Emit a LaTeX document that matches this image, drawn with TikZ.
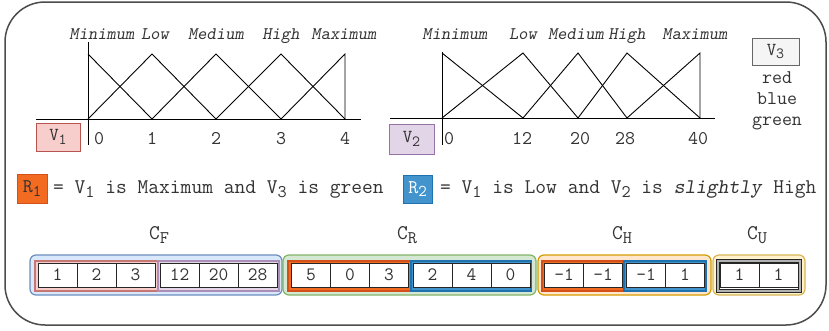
\documentclass[tikz,border=0pt]{standalone}
\usepackage{fontspec}
\usetikzlibrary{positioning}
\definecolor{redfill}{HTML}{F8CECC}\definecolor{reddraw}{HTML}{B85450}
\definecolor{purfill}{HTML}{E1D5E7}\definecolor{purdraw}{HTML}{9673A6}
\definecolor{grayfill}{HTML}{F5F5F5}\definecolor{graydraw}{HTML}{666666}
\definecolor{orfill}{HTML}{F26B21}\definecolor{ordraw}{HTML}{D4501A}
\definecolor{bufill}{HTML}{4393CC}\definecolor{budraw}{HTML}{1F72B0}
\definecolor{blfill}{HTML}{DAE8FC}\definecolor{bldraw}{HTML}{6C8EBF}
\definecolor{grfill}{HTML}{D5E8D4}\definecolor{grdraw}{HTML}{82B366}
\definecolor{ogfill}{HTML}{FFE6CC}\definecolor{ogdraw}{HTML}{D79B00}
\definecolor{ylfill}{HTML}{FFF2CC}\definecolor{yldraw}{HTML}{D6B656}
\newcommand{\lsub}[1]{\raisebox{-0.45ex}{\scalebox{0.85}{#1}}}
\begin{document}
\begin{tikzpicture}[x=1pt,y=-1pt, every node/.style={font=\ttfamily,text=black!80},
  axis/.style={black,line width=1pt},
  mf/.style={black,line width=0.9pt},
  term/.style={anchor=base,inner sep=0pt,font=\ttfamily\slshape\fontsize{17.7}{19}\selectfont},
  tick/.style={anchor=base,inner sep=0pt,font=\ttfamily\fontsize{19.4}{21}\selectfont},
  vbox/.style={draw,line width=1pt,inner sep=0pt,font=\ttfamily\fontsize{18.3}{20}\selectfont},
  rbox/.style={draw,line width=1pt,inner sep=0pt,minimum width=30pt,minimum height=29pt,font=\ttfamily\fontsize{19.4}{21}\selectfont},
  rule/.style={anchor=base west,inner sep=0pt,font=\ttfamily\fontsize{20.9}{23}\selectfont},
  clbl/.style={anchor=base west,inner sep=0pt,font=\ttfamily\fontsize{20.9}{23}\selectfont},
  grp/.style={draw,line width=1.2pt,rounded corners=6pt,minimum height=40pt,inner sep=0pt},
  sub/.style={draw,line width=1.2pt,minimum height=30pt,inner sep=0pt},
  cell/.style={draw=black!85,fill=white,line width=1pt,minimum width=39pt,minimum height=24pt,inner sep=0pt,font=\ttfamily\fontsize{18.9}{20}\selectfont}]
  \useasboundingbox (0,0) rectangle (829,330);
  \draw[black!70,line width=1.5pt,rounded corners=40pt] (5,2) rectangle (826,325);
  % V1 memberships
  \draw[axis] (88,42) -- (88,145);
  \draw[axis] (36,119) -- (361,119);
  \draw[mf] (88,54) -- (152,119);
  \draw[mf] (88,119) -- (152,54) -- (216,119);
  \draw[mf] (152,119) -- (216,54) -- (281,119);
  \draw[mf] (216,119) -- (281,54) -- (345,119);
  \draw[mf] (281,119) -- (345,54) -- (345,119);
  \node[term] (v1min) at (102,39) {Minimum};
  \node[term] (v1low) at (155,39) {Low};
  \node[term] (v1med) at (216,39) {Medium};
  \node[term] (v1high) at (281,39) {High};
  \node[term] (v1max) at (344,39) {Maximum};
  \node[tick] (v1t0) at (99,144) {0};
  \node[tick] (v1t1) at (152,144) {1};
  \node[tick] (v1t2) at (216,144) {2};
  \node[tick] (v1t3) at (281,144) {3};
  \node[tick] (v1t4) at (345,144) {4};
  \node[vbox,fill=redfill,draw=reddraw,minimum width=44pt,minimum height=28pt] (v1) at (58,137) {V\lsub{1}};
  % V2 memberships
  \draw[axis] (442,52) -- (442,145);
  \draw[axis] (390,118) -- (715,118);
  \draw[mf] (442,53) -- (523,118);
  \draw[mf] (442,118) -- (523,53) -- (578,118);
  \draw[mf] (523,118) -- (578,53) -- (627,118);
  \draw[mf] (578,118) -- (627,53) -- (700,118);
  \draw[mf] (627,118) -- (700,53) -- (700,118);
  \node[term] (v2min) at (455,39) {Minimum};
  \node[term] (v2low) at (523,39) {Low};
  \node[term] (v2med) at (576,39) {Medium};
  \node[term] (v2high) at (627,39) {High};
  \node[term] (v2max) at (695,39) {Maximum};
  \node[tick] (v2t0) at (449,144) {0};
  \node[tick] (v2t12) at (522,144) {12};
  \node[tick] (v2t20) at (580,144) {20};
  \node[tick] (v2t28) at (625,144) {28};
  \node[tick] (v2t40) at (698,144) {40};
  \node[vbox,fill=purfill,draw=purdraw,minimum width=45pt,minimum height=30pt] (v2) at (411.5,139) {V\lsub{2}};
  % V3 categories
  \node[vbox,fill=grayfill,draw=graydraw,minimum width=47pt,minimum height=27pt] (v3) at (775.5,51.5) {V\lsub{3}};
  \node[tick] (v3red) at (777,83) {red};
  \node[tick] (v3blue) at (777,104) {blue};
  \node[tick] (v3green) at (777,125) {green};
  % rules
  \node[rbox,fill=orfill,draw=ordraw] (r1) at (32,188.5) {R\lsub{1}};
  \node[rule] (r1txt) at (53,193) {= V\lsub{1} is Maximum and V\lsub{3} is green};
  \node[rbox,fill=bufill,draw=budraw,text=white,minimum width=29pt,minimum height=28pt] (r2) at (417.5,189) {R\lsub{2}};
  \node[rule] (r2txt) at (440,193) {= V\lsub{1} is Low and V\lsub{2} is \textsl{slightly} High};
  % chromosome
  \node[clbl] (cF) at (149,239) {C\lsub{F}};
  \node[clbl] (cR) at (397,239) {C\lsub{R}};
  \node[clbl] (cH) at (612,239) {C\lsub{H}};
  \node[clbl] (cU) at (747,239) {C\lsub{U}};
  \node[grp,fill=blfill,draw=bldraw,minimum width=252pt] (gF) at (156,275) {};
  \node[grp,fill=grfill,draw=grdraw,minimum width=253pt] (gR) at (409.5,275) {};
  \node[grp,fill=ogfill,draw=ogdraw,minimum width=173pt] (gH) at (624.5,275) {};
  \node[grp,fill=ylfill,draw=yldraw,minimum width=92pt] (gU) at (759,275) {};
  \node[sub,fill=redfill,draw=reddraw!80,minimum width=123pt] (sF1) at (96.5,276) {};
  \node[sub,fill=purfill,draw=purdraw!80,minimum width=121pt] (sF2) at (218.5,276) {};
  \node[sub,fill=orfill,draw=ordraw,line width=2pt,minimum width=123pt] (sR1) at (349.5,276) {};
  \node[sub,fill=bufill,draw=budraw,line width=2pt,minimum width=120pt] (sR2) at (471,276) {};
  \node[sub,fill=orfill,draw=ordraw,line width=2pt,minimum width=83pt] (sH1) at (583,276) {};
  \node[sub,fill=bufill,draw=budraw,line width=2pt,minimum width=82pt] (sH2) at (665,276) {};
  \node[sub,fill=white,draw=black!85,double=black!30,double distance=1.5pt,line width=0.8pt,minimum width=82pt] (sU) at (759,276) {};
  \node[cell] (f1) at (57.5,275) {1};
  \node[cell] (f2) at (96.5,275) {2};
  \node[cell] (f3) at (135.5,275) {3};
  \node[cell] (f4) at (179.5,275) {12};
  \node[cell] (f5) at (218.5,275) {20};
  \node[cell] (f6) at (257.5,275) {28};
  \node[cell] (r1c1) at (311,275) {5};
  \node[cell] (r1c2) at (350,275) {0};
  \node[cell] (r1c3) at (389,275) {3};
  \node[cell] (r2c1) at (432.5,275) {2};
  \node[cell] (r2c2) at (471.5,275) {4};
  \node[cell] (r2c3) at (510.5,275) {0};
  \node[cell] (h1) at (564,275) {-1};
  \node[cell] (h2) at (603,275) {-1};
  \node[cell] (h3) at (646,275) {-1};
  \node[cell] (h4) at (685,275) {1};
  \node[cell] (u1) at (739.5,275) {1};
  \node[cell] (u2) at (778.5,275) {1};
\end{tikzpicture}
\end{document}
